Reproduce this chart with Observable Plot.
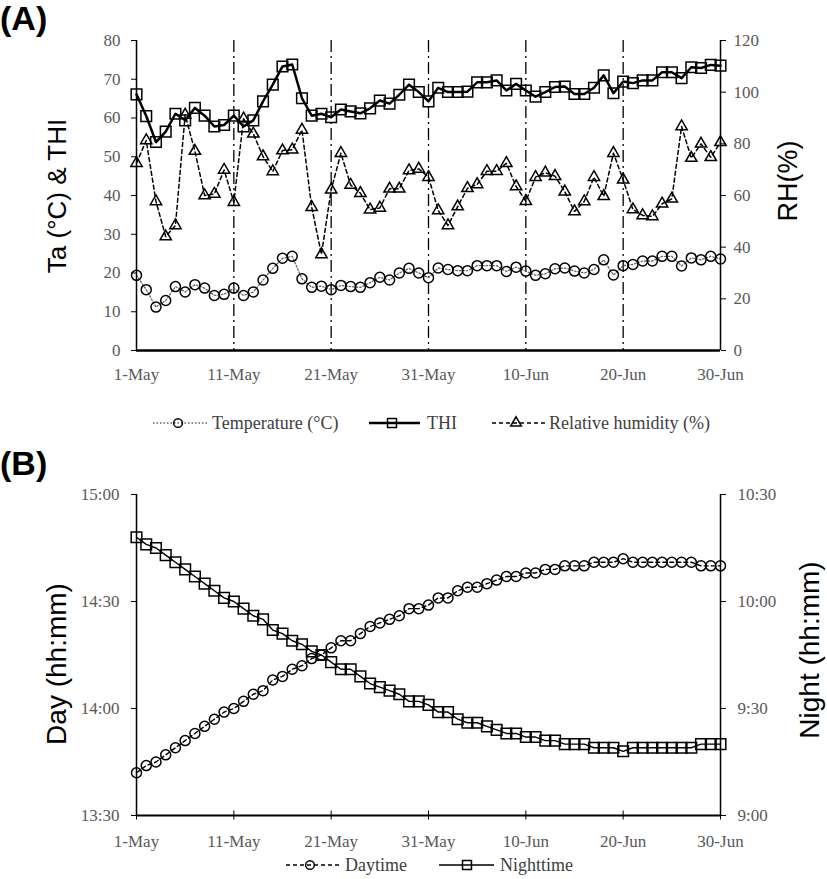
<!DOCTYPE html>
<html><head><meta charset="utf-8">
<script src="https://cdn.jsdelivr.net/npm/d3@7"></script>
<script src="https://cdn.jsdelivr.net/npm/@observablehq/plot@0.6"></script>
<style>
body{margin:0;background:#fff;}
#wrap{position:relative;width:827px;height:879px;overflow:hidden;background:#fff}
.panel{position:absolute;left:0;font:bold 34px "Liberation Sans",Arial,sans-serif;line-height:1;color:#000}
.ytitle{position:absolute;font-family:"Liberation Sans",Arial,sans-serif;white-space:nowrap;transform:translate(-50%,-50%) rotate(-90deg);color:#000;line-height:1}
svg{position:absolute;left:0}
</style></head><body><div id="wrap"></div>
<script>
// ---------- data ----------
const xTickLabels = ["1-May","11-May","21-May","31-May","10-Jun","20-Jun","30-Jun"];
const tempA = [19.4,15.7,11.2,12.9,16.5,15.1,17.0,16.1,14.2,14.5,
 16.1,14.2,15.1,18.2,21.2,23.8,24.3,18.5,16.3,16.6,
 15.7,16.8,16.5,16.3,17.5,18.9,18.2,20.0,21.2,20.0,
 18.8,21.3,20.9,20.6,20.6,21.9,21.9,21.9,20.4,21.5,
 20.5,19.4,19.8,21.1,21.3,20.5,20.0,20.9,23.4,19.5,
 21.9,22.2,23.1,23.1,24.3,24.3,21.8,23.9,23.4,24.3,23.6];
const thiA = [66.1,60.5,53.8,56.5,61.1,59.4,62.6,60.6,57.8,58.2,
 60.6,57.8,59.4,64.3,68.6,73.3,73.8,65.1,60.6,61.1,
 60.2,62.2,61.7,61.2,62.5,64.5,63.7,66.0,68.6,66.7,
 64.3,67.8,66.7,66.7,66.8,69.2,69.2,69.7,67.1,68.8,
 67.1,65.5,66.7,68.0,68.1,66.2,66.2,67.8,71.0,66.4,
 69.4,69.0,69.7,69.7,71.8,71.8,70.3,73.1,72.9,73.7,73.5];
const rhA = [72.5,81.3,57.7,44.1,48.4,91.2,77.2,60.0,60.6,69.9,
 57.4,89.7,83.9,75.1,69.3,77.4,77.7,85.4,55.5,37.2,
 62.2,76.4,64.1,60.9,54.5,55.2,62.6,62.6,69.7,70.3,
 67.1,54.2,48.4,55.7,62.8,64.3,69.4,69.4,72.5,63.5,
 57.8,67.1,68.8,67.5,61.5,53.8,57.7,67.1,59.7,76.4,
 66.1,54.6,52.3,51.9,56.8,58.7,86.7,74.5,80.0,74.8,80.6];
const leftTicksA = [0,10,20,30,40,50,60,70,80];
const rhTicks = [0,20,40,60,80,100,120];
const legendA = ["Temperature (\u00B0C)", "THI", "Relative humidity (%)"];

const daytime = ["13:42","13:44","13:45","13:47","13:49","13:51","13:53","13:55","13:57","13:59",
 "14:00","14:02","14:04","14:05","14:08","14:09","14:11","14:12","14:14","14:15",
 "14:17","14:19","14:19","14:21","14:23","14:24","14:25","14:26","14:28","14:28",
 "14:29","14:31","14:31","14:33","14:34","14:34","14:35","14:36","14:37","14:37",
 "14:38","14:38","14:39","14:39","14:40","14:40","14:40","14:41","14:41","14:41",
 "14:42","14:41","14:41","14:41","14:41","14:41","14:41","14:41","14:40","14:40","14:40"];
const nighttime = ["10:18","10:16","10:15","10:13","10:11","10:09","10:07","10:05","10:03","10:01",
 "10:00","9:58","9:56","9:55","9:52","9:51","9:49","9:48","9:46","9:45",
 "9:43","9:41","9:41","9:39","9:37","9:36","9:35","9:34","9:32","9:32",
 "9:31","9:29","9:29","9:27","9:26","9:26","9:25","9:24","9:23","9:23",
 "9:22","9:22","9:21","9:21","9:20","9:20","9:20","9:19","9:19","9:19",
 "9:18","9:19","9:19","9:19","9:19","9:19","9:19","9:19","9:20","9:20","9:20"];
const dayTicks = ["13:30","14:00","14:30","15:00"];
const nightTicks = ["9:00","9:30","10:00","10:30"];
const legendB = ["Daytime", "Nighttime"];

// ---------- helpers ----------
const wrap = document.getElementById("wrap");
const parseTick = d3.utcParse("%d-%b-%Y");
const xTicks = xTickLabels.map(s => parseTick(s + "-2019"));
const labelOf = new Map(xTicks.map((d, i) => [+d, xTickLabels[i]]));
const dates = d3.utcDay.range(xTicks[0], d3.utcDay.offset(xTicks[xTicks.length - 1], 1));
const toMin = s => { const [h, m] = s.split(":").map(Number); return h * 60 + m; };
const fmtMin = m => `${Math.floor(m / 60)}:${String(m % 60).padStart(2, "0")}`;
const serif = '"Liberation Serif","Times New Roman",serif';
const tickColor = "#595959";
const xFmt = d => labelOf.get(+d);

// ---------- panel A ----------
const rhScale = 80 / 120;
const rowsA = dates.map((date, i) => ({date, temp: tempA[i], thi: thiA[i], rh: rhA[i] * rhScale}));
const plotA = Plot.plot({
  width: 827, height: 395,
  marginLeft: 136, marginRight: 107, marginTop: 40, marginBottom: 45,
  style: {fontFamily: serif, fontSize: "17px", background: "transparent", overflow: "visible"},
  x: {type: "utc", domain: [xTicks[0], xTicks[xTicks.length - 1]]},
  y: {domain: [0, 80]},
  marks: [
    Plot.ruleX(xTicks.slice(1, -1), {stroke: "#000", strokeWidth: 1.3, strokeDasharray: "12,4,2,4"}),
    Plot.line(rowsA, {x: "date", y: "temp", stroke: "#666", strokeWidth: 1.3, strokeDasharray: "1.5,2"}),
    Plot.line(rowsA, {x: "date", y: "rh", stroke: "#000", strokeWidth: 1.5, strokeDasharray: "4,3"}),
    Plot.line(rowsA, {x: "date", y: "thi", stroke: "#000", strokeWidth: 2.5}),
    Plot.dot(rowsA, {x: "date", y: "temp", symbol: "circle", r: 5, stroke: "#000", strokeWidth: 1.5, fill: "none"}),
    Plot.dot(rowsA, {x: "date", y: "thi", symbol: "square", r: 6, stroke: "#000", strokeWidth: 1.5, fill: "none"}),
    Plot.dot(rowsA, {x: "date", y: "rh", symbol: "triangle", r: 4.2, stroke: "#000", strokeWidth: 1.5, fill: "none"}),
    Plot.ruleY([0], {stroke: "#000", strokeWidth: 2.5}),
    Plot.ruleX([xTicks[0]], {stroke: "#000", strokeWidth: 1.5}),
    Plot.ruleX([xTicks[xTicks.length - 1]], {stroke: "#000", strokeWidth: 1.5}),
    Plot.axisX(xTicks, {tickSize: 0, tickPadding: 17, tickFormat: xFmt, fill: tickColor, label: null}),
    Plot.axisY(leftTicksA, {anchor: "left", tickSize: 5, tickPadding: 11, stroke: "#000", fill: tickColor, label: null}),
    Plot.axisY(rhTicks.map(v => v * rhScale), {anchor: "right", tickSize: 5, tickPadding: 8, stroke: "#000", fill: tickColor, label: null,
      tickFormat: v => Math.round(v / rhScale)})
  ]
});
plotA.style.top = "0px";
wrap.appendChild(plotA);

// ---------- panel B ----------
const offsetB = toMin(dayTicks[0]) - toMin(nightTicks[0]);
const rowsB = dates.map((date, i) => ({date, day: toMin(daytime[i]), night: toMin(nighttime[i]) + offsetB}));
const plotB = Plot.plot({
  width: 827, height: 415,
  marginLeft: 136, marginRight: 107, marginTop: 54, marginBottom: 40,
  style: {fontFamily: serif, fontSize: "17px", background: "transparent", overflow: "visible"},
  x: {type: "utc", domain: [xTicks[0], xTicks[xTicks.length - 1]]},
  y: {domain: [toMin(dayTicks[0]), toMin(dayTicks[dayTicks.length - 1])]},
  marks: [
    Plot.line(rowsB, {x: "date", y: "day", stroke: "#000", strokeWidth: 1.4, strokeDasharray: "4,3"}),
    Plot.line(rowsB, {x: "date", y: "night", stroke: "#000", strokeWidth: 1.4}),
    Plot.dot(rowsB, {x: "date", y: "day", symbol: "circle", r: 5, stroke: "#000", strokeWidth: 1.5, fill: "none"}),
    Plot.dot(rowsB, {x: "date", y: "night", symbol: "square", r: 6, stroke: "#000", strokeWidth: 1.5, fill: "none"}),
    Plot.ruleY([toMin(dayTicks[0])], {stroke: "#000", strokeWidth: 1.8}),
    Plot.ruleX([xTicks[0]], {stroke: "#000", strokeWidth: 1.5}),
    Plot.ruleX([xTicks[xTicks.length - 1]], {stroke: "#000", strokeWidth: 1.5}),
    Plot.axisX(xTicks, {tickSize: 9, dy: -4.5, tickFormat: () => "", stroke: "#000", label: null}),
    Plot.axisX(xTicks, {tickSize: 0, tickPadding: 19, tickFormat: xFmt, fill: tickColor, label: null}),
    Plot.axisY(dayTicks.map(toMin), {anchor: "left", tickSize: 5, tickPadding: 12, stroke: "#000", fill: tickColor, label: null, tickFormat: fmtMin}),
    Plot.axisY(nightTicks.map(t => toMin(t) + offsetB), {anchor: "right", tickSize: 5, tickPadding: 12, stroke: "#000", fill: tickColor, label: null,
      tickFormat: v => fmtMin(v - offsetB)})
  ]
});
plotB.style.top = "440px";
wrap.appendChild(plotB);

// ---------- legends ----------
function legend(items, cy, fontSize) {
  const svg = d3.create("svg").attr("width", 827).attr("height", 30)
    .style("position", "absolute").style("left", "0px").style("top", (cy - 15) + "px");
  for (const it of items) {
    svg.append("line").attr("x1", it.x1).attr("x2", it.x2).attr("y1", 15).attr("y2", 15)
      .attr("stroke", it.stroke).attr("stroke-width", it.sw).attr("stroke-dasharray", it.dash);
    svg.append("path").attr("d", d3.symbol(it.symbol, it.size)())
      .attr("transform", `translate(${it.cx},15)`).attr("fill", "none").attr("stroke", "#000").attr("stroke-width", 1.5);
    svg.append("text").attr("x", it.tx).attr("y", 15).attr("dy", "0.35em")
      .attr("font-family", serif).attr("font-size", fontSize).attr("fill", "#404040").text(it.label);
  }
  wrap.appendChild(svg.node());
}
legend([
  {label: legendA[0], x1: 153, x2: 208, cx: 178, tx: 212, stroke: "#666", sw: 1.3, dash: "1.5,2", symbol: d3.symbolCircle, size: 60},
  {label: legendA[1], x1: 369, x2: 420, cx: 392, tx: 427, stroke: "#000", sw: 2.5, dash: null, symbol: d3.symbolSquare, size: 80},
  {label: legendA[2], x1: 492, x2: 545, cx: 516, tx: 549, stroke: "#000", sw: 1.5, dash: "4,3", symbol: d3.symbolTriangle, size: 50}
], 423, 18);
legend([
  {label: legendB[0], x1: 286, x2: 341, cx: 310, tx: 345, stroke: "#000", sw: 1.4, dash: "4,3", symbol: d3.symbolCircle, size: 60},
  {label: legendB[1], x1: 439, x2: 494, cx: 467, tx: 500, stroke: "#000", sw: 1.4, dash: null, symbol: d3.symbolSquare, size: 80}
], 865, 18);

// ---------- panel labels & axis titles ----------
function addDiv(cls, text, styles) {
  const d = document.createElement("div");
  d.className = cls; d.textContent = text;
  Object.assign(d.style, styles);
  wrap.appendChild(d);
}
addDiv("panel", "(A)", {top: "1px", left: "0px"});
addDiv("panel", "(B)", {top: "446px", left: "0px"});
addDiv("ytitle", "Ta (\u00B0C) & THI", {left: "57px", top: "196px", fontSize: "26px"});
addDiv("ytitle", "RH(%)", {left: "788px", top: "181px", fontSize: "27px"});
addDiv("ytitle", "Day (hh:mm)", {left: "57px", top: "664px", fontSize: "28px"});
addDiv("ytitle", "Night (hh:mm)", {left: "810px", top: "650px", fontSize: "28px"});
</script></body></html>
